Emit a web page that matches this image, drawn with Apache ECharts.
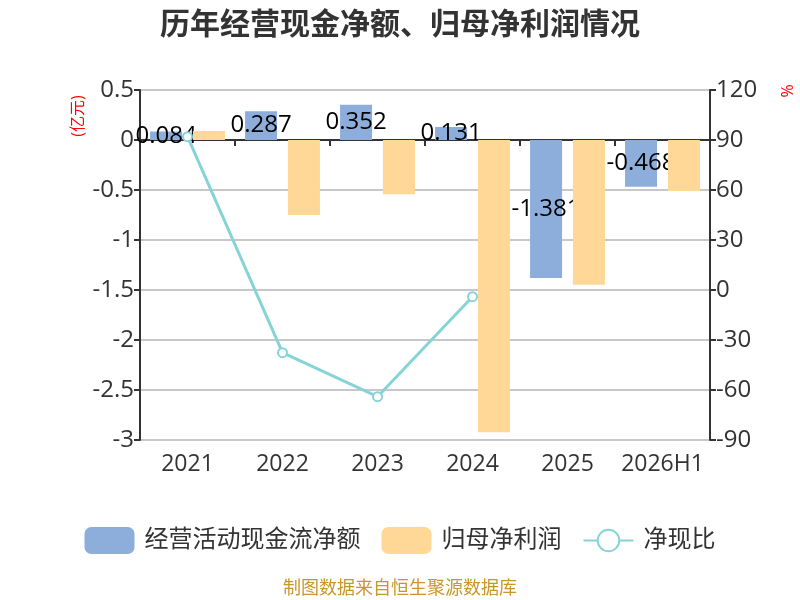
<!DOCTYPE html>
<html>
<head>
<meta charset="utf-8">
<script src="https://cdn.jsdelivr.net/npm/echarts@6/dist/echarts.min.js"></script>
<style>
html, body { margin: 0; padding: 0; background: #fff; }
#chart { width: 800px; height: 600px; }
</style>
</head>
<body>
<div id="chart"></div>
<script>
// 年份
var years = ['2021', '2022', '2023', '2024', '2025', '2026H1'];
// 经营活动现金流净额(亿元)
var cashFlow = [0.084, 0.287, 0.352, 0.131, -1.381, -0.468];
// 归母净利润(亿元)
var netProfit = [0.09, -0.75, -0.543, -2.923, -1.447, -0.51];
// 净现比(%)
var cashRatio = [92, -37.6, -64, -4, null, null];

var font = "'Open Sans', 'Noto Sans CJK SC', sans-serif";

var myChart = echarts.init(document.getElementById('chart'));
var option = {
	backgroundColor: '#fff',
	textStyle: { fontFamily: font },
	title: {
		text: '历年经营现金净额、归母净利润情况',
		left: 'center',
		top: 5,
		textStyle: { fontSize: 30, fontWeight: 'bold', color: '#333', fontFamily: font }
	},
	legend: {
		top: 522,
		left: 'center',
		itemWidth: 50,
		itemHeight: 27,
		itemGap: 21,
		textStyle: { fontSize: 24, color: '#333', fontFamily: font, padding: [0, 0, 0, 5] },
		data: ['经营活动现金流净额', '归母净利润', '净现比']
	},
	grid: { left: 140, right: 90, top: 90, bottom: 160 },
	xAxis: [{
		type: 'category',
		data: years,
		position: 'bottom',
		axisLine: { show: false },
		axisTick: { show: false },
		axisLabel: { interval: 0, fontSize: 23, color: '#333', margin: 13, hideOverlap: false }
	}, {
		type: 'category',
		data: years,
		position: 'bottom',
		axisLine: { show: true, onZero: true, onZeroAxisIndex: 0, lineStyle: { color: '#333', width: 2 } },
		axisTick: { show: true, length: 6, lineStyle: { color: '#333', width: 2 } },
		axisLabel: { show: false }
	}],
	yAxis: [{
		type: 'value',
		min: -3,
		max: 0.5,
		interval: 0.5,
		axisLine: { show: true, lineStyle: { color: '#333', width: 2 } },
		axisTick: { show: true, length: 6, lineStyle: { color: '#333', width: 2 } },
		axisLabel: { fontSize: 24, color: '#333', margin: 6 },
		splitLine: { lineStyle: { color: '#c8c8c8', width: 2 } }
	}, {
		type: 'value',
		min: -90,
		max: 120,
		interval: 30,
		axisLine: { show: true, lineStyle: { color: '#333', width: 2 } },
		axisTick: { show: true, length: 6, lineStyle: { color: '#333', width: 2 } },
		axisLabel: { fontSize: 24, color: '#333', margin: 6 },
		splitLine: { show: false }
	}],
	series: [{
		name: '经营活动现金流净额',
		type: 'bar',
		xAxisIndex: 0,
		yAxisIndex: 0,
		z: 2,
		barWidth: 32,
		barGap: '34%',
		itemStyle: { color: '#8daedb' },
		label: { show: true, position: 'inside', color: '#000', fontSize: 24, fontFamily: font },
		data: cashFlow
	}, {
		name: '归母净利润',
		type: 'bar',
		xAxisIndex: 0,
		yAxisIndex: 0,
		z: 3,
		barWidth: 32,
		barGap: '34%',
		itemStyle: { color: '#ffd897' },
		data: netProfit
	}, {
		name: '净现比',
		type: 'line',
		xAxisIndex: 0,
		yAxisIndex: 1,
		z: 4,
		symbol: 'emptyCircle',
		symbolSize: 9,
		itemStyle: { color: '#87d4d8', borderWidth: 2 },
		lineStyle: { color: '#87d4d8', width: 3 },
		data: cashRatio
	}],
	graphic: [{
		type: 'text',
		x: 78,
		y: 116,
		rotation: Math.PI / 2,
		style: { text: '(亿元)', fill: '#ff0000', fontSize: 16, fontFamily: font, align: 'center', verticalAlign: 'middle' }
	}, {
		type: 'text',
		x: 788,
		y: 91,
		rotation: Math.PI / 2,
		style: { text: '%', fill: '#ff0000', fontSize: 16, fontFamily: font, align: 'center', verticalAlign: 'middle' }
	}, {
		type: 'text',
		x: 400,
		y: 589,
		style: { text: '制图数据来自恒生聚源数据库', fill: '#c9962b', fontSize: 18, fontFamily: font, align: 'center', verticalAlign: 'middle' }
	}]
};
myChart.setOption(option);
</script>
</body>
</html>
